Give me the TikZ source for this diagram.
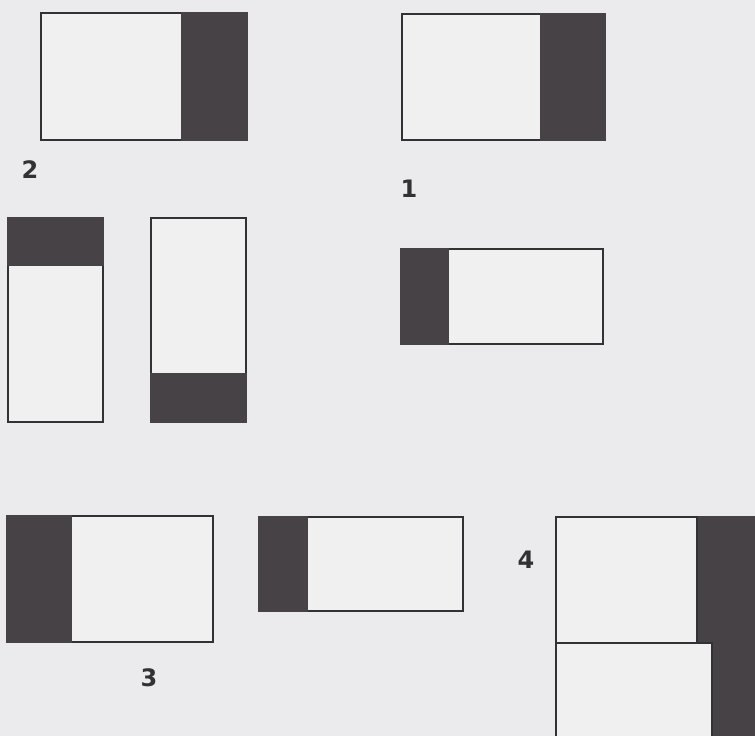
\documentclass[tikz,border=0pt]{standalone}
\usepackage{fontspec}
\setsansfont{DejaVu Sans}
\usetikzlibrary{positioning}
\definecolor{pagegray}{RGB}{235, 235, 237}
\definecolor{paperwhite}{RGB}{240, 240, 241}
\definecolor{inkgray}{RGB}{70, 66, 70}
\definecolor{linegray}{RGB}{50, 50, 54}
\tikzset{
  panel/.style 2 args={
    rectangle, inner sep=0pt, outer sep=0pt, anchor=north west,
    minimum width=#1, minimum height=#2,
    draw=linegray, line width=1.6pt, fill=paperwhite},
  inkbox/.style 2 args={
    rectangle, inner sep=0pt, outer sep=0pt,
    minimum width=#1, minimum height=#2,
    draw=inkgray, line width=1.6pt, fill=inkgray},
  figlabel/.style={font=\sffamily\bfseries\fontsize{24}{24}\selectfont, text=linegray, inner sep=0pt}
}

\begin{document}
\begin{tikzpicture}[x=1pt, y=-1pt]

% ── Page ──────────────────────────────────────────────────
\fill[pagegray] (0,0) rectangle (755,736);
\useasboundingbox (0,0) rectangle (755,736);

% ── Top Row: Figures 2 and 1 ──────────────────────────────
\node[panel={206}{127}] (fig2) at (41, 13) {};
\node[inkbox={65}{127}, anchor=north east] (fig2ink) at (fig2.north east) {};
\node[figlabel] (lab2) at (30, 170) {2};

\node[panel={203}{126}] (fig1) at (402, 14) {};
\node[inkbox={64}{126}, anchor=north east] (fig1ink) at (fig1.north east) {};
\node[figlabel] (lab1) at (409, 189) {1};

% ── Middle Row: Upright Panels ────────────────────────────
\node[panel={95}{204}] (colA) at (8, 218) {};
\node[inkbox={95}{47}, anchor=north west] (colAink) at (colA.north west) {};

\node[panel={95}{204}] (colB) at (151, 218) {};
\node[inkbox={95}{48}, anchor=south west] (colBink) at (colB.south west) {};

\node[panel={202}{95}] (figC) at (401, 249) {};
\node[inkbox={47}{95}, anchor=north west] (figCink) at (figC.north west) {};

% ── Bottom Row: Figures 3 and 4 ───────────────────────────
\node[panel={206}{126}] (fig3) at (7, 516) {};
\node[inkbox={64}{126}, anchor=north west] (fig3ink) at (fig3.north west) {};
\node[figlabel] (lab3) at (149, 678) {3};

\node[panel={204}{94}] (figE) at (259, 517) {};
\node[inkbox={48}{94}, anchor=north west] (figEink) at (figE.north west) {};
\node[figlabel] (lab4) at (526, 560) {4};

% ── Figure 4: Stepped Panel ───────────────────────────────
\node[inkbox={62}{225}, anchor=north west] (fig4ink) at (697, 517) {};
\node[panel={141}{126}] (fig4up) at (556, 517) {};
\node[panel={156}{100}, anchor=north west] (fig4low) at (fig4up.south west) {};

\end{tikzpicture}
\end{document}
